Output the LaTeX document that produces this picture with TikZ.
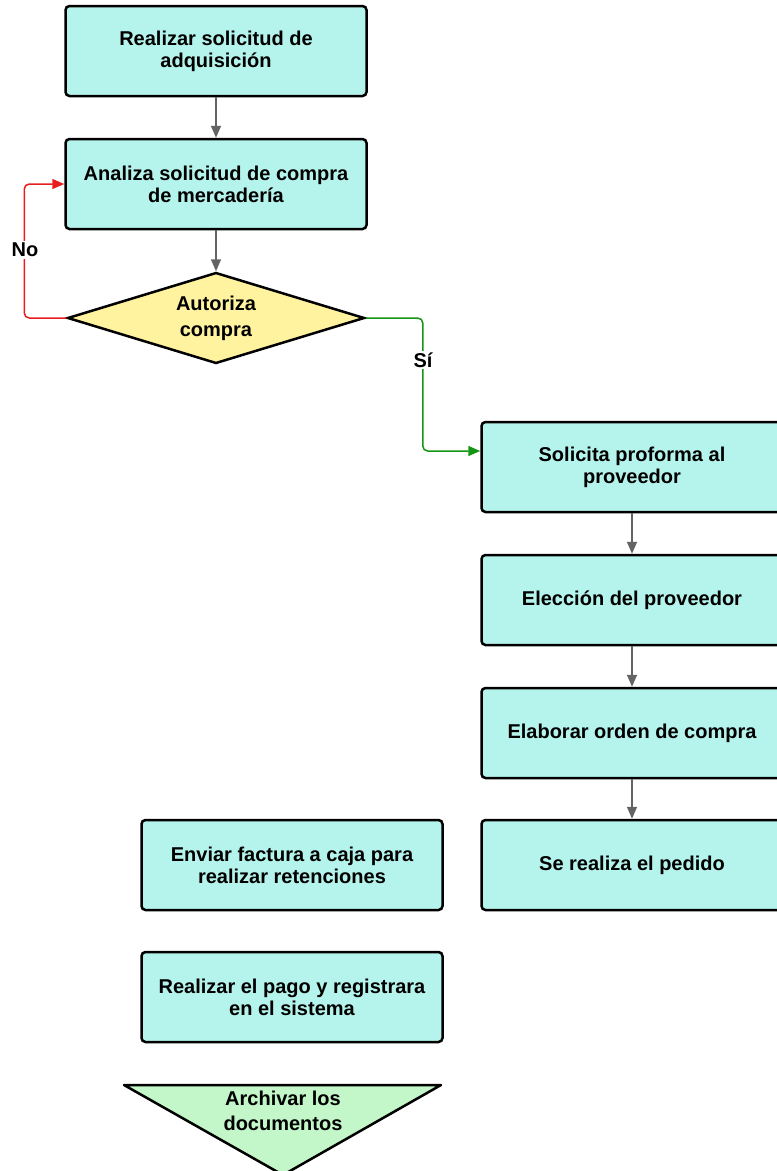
\documentclass[tikz,border=0pt]{standalone}
\usepackage{fontspec}
\setmainfont{Liberation Sans}
\usepackage{tikz}
\usetikzlibrary{shapes.geometric}
\usetikzlibrary{positioning}
\usetikzlibrary{arrows.meta}
\usetikzlibrary{calc}
\usepackage{xcolor}

\definecolor{turquesa}{RGB}{181,244,236}
\definecolor{amarillo}{RGB}{255,243,160}
\definecolor{verdeclaro}{RGB}{195,246,200}
\definecolor{gris}{RGB}{100,100,100}
\definecolor{rojo}{RGB}{230,30,30}
\definecolor{verde}{RGB}{20,150,20}

\tikzset{
  caja/.style={draw=black, line width=2.5pt, rounded corners=4pt, fill=turquesa,
    minimum width=301pt, minimum height=90pt, align=center,
    font=\fontsize{20}{22}\selectfont\bfseries},
  decision/.style={diamond, draw=black, line width=2.5pt, fill=amarillo,
    aspect=3.2, inner sep=0pt, minimum width=297pt, minimum height=91pt,
    align=center, font=\fontsize{20}{26}\selectfont\bfseries},
  flecha/.style={draw=gris, line width=1.5pt, -{Triangle[length=12pt,width=10pt]}},
  rama/.style={line width=1.5pt, rounded corners=5pt, -{Triangle[length=12pt,width=10pt]}},
  etiqueta/.style={fill=white, inner sep=2pt, font=\fontsize{20}{22}\selectfont\bfseries}
}

\begin{document}
\begin{tikzpicture}[x=1pt,y=-1pt]
\useasboundingbox (0,0) rectangle (777,1171);

% columna izquierda
\node[caja] (solicitud) at (216,51) {Realizar solicitud de\\adquisici\'on};
\node[caja] (analiza) at (216,184) {Analiza solicitud de compra\\de mercader\'ia};
\node[decision] (autoriza) at (216,318) {Autoriza\\compra};

% columna derecha
\node[caja] (proforma) at (632,467) {Solicita proforma al\\proveedor};
\node[caja] (eleccion) at (632,600) {Elecci\'on del proveedor};
\node[caja] (orden) at (632,733) {Elaborar orden de compra};
\node[caja] (pedido) at (632,865) {Se realiza el pedido};

% pago y archivo
\node[caja] (factura) at (292,865) {Enviar factura a caja para\\realizar retenciones};
\node[caja] (pago) at (292,997) {Realizar el pago y registrara\\en el sistema};
\draw[line width=2.5pt, line join=round, fill=verdeclaro] (124,1085)--(441,1085)--(283,1175)--cycle;
\node[font=\fontsize{20}{25}\selectfont\bfseries, align=center] (archivar) at (283,1111) {Archivar los\\documentos};

% conectores
\draw[flecha] (solicitud) -- (analiza);
\draw[flecha] (analiza) -- (autoriza);
\draw[flecha] (proforma) -- (eleccion);
\draw[flecha] (eleccion) -- (orden);
\draw[flecha] (orden) -- (pedido);

\draw[rama, draw=rojo] (autoriza.west) -- ++(-42,0) |- (analiza.west);
\node[etiqueta] (no) at (25,250) {No};

\draw[rama, draw=verde] (autoriza.east) -- ++(57,0) |- ($(proforma.west)+(0,-16)$);
\node[etiqueta] (si) at (423,360) {S\'i};
\end{tikzpicture}
\end{document}
